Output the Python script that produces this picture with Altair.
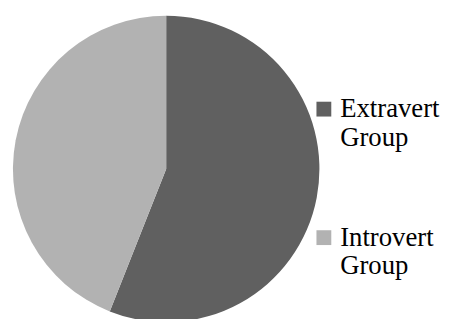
import altair as alt
import pandas as pd

groups = ["Extravert Group", "Introvert Group"]
shares = [56, 44]
colors = ["#606060", "#b2b2b2"]

df = pd.DataFrame({"group": groups, "share": shares, "order": [0, 1]})

serif = "Liberation Serif, Times New Roman, DejaVu Serif, serif"

chart = alt.Chart(df).mark_arc(stroke=None, radius=155).encode(
    theta=alt.Theta("share:Q", stack=True),
    order=alt.Order("order:Q"),
    color=alt.Color(
        "group:N",
        scale=alt.Scale(domain=groups, range=colors),
        legend=alt.Legend(
            title=None,
            orient="none",
            legendX=301,
            legendY=76,
            symbolType="square",
            symbolSize=225,
            symbolStrokeWidth=0,
            labelFont=serif,
            labelFontSize=27,
            labelColor="black",
            labelLimit=300,
            labelExpr="split(datum.label, ' ')",
            rowPadding=73,
            labelOffset=3,
        ),
    ),
).properties(
    width=310,
    height=300,
    autosize=alt.AutoSizeParams(type="none"),
    padding={"left": 5, "top": 11, "right": 125, "bottom": 0},
).configure(font=serif).configure_view(stroke=None)

chart.save("out.html", embed_options={"renderer": "svg", "actions": False})
